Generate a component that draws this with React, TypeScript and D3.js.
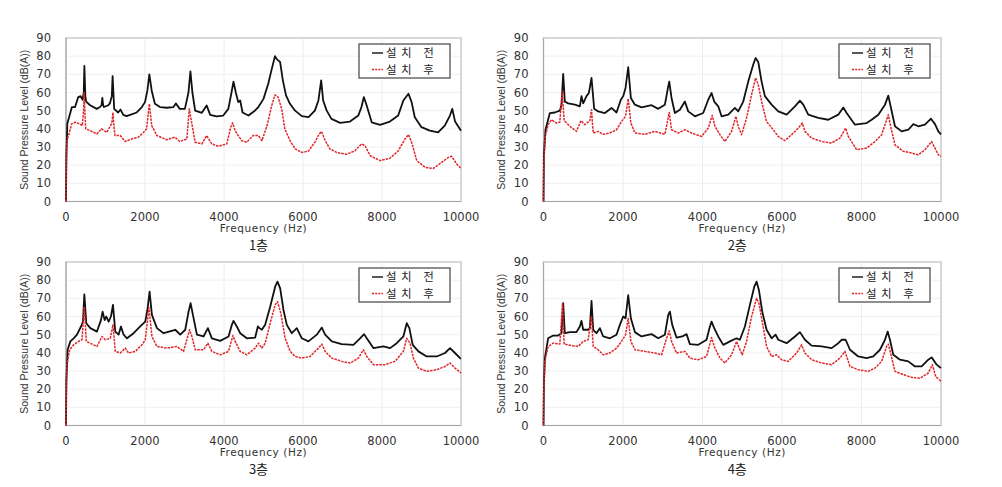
import React from "react";
import * as d3 from "d3";

type Pt = [number, number];

const xTicks = [0, 2000, 4000, 6000, 8000, 10000];
const yTicks = [0, 10, 20, 30, 40, 50, 60, 70, 80, 90];
const seriesNames = ["설치 전", "설치 후"];
const floorNames = ["1층", "2층", "3층", "4층"];

const p1Before: Pt[] = [[0,0],[10,25],[34,43],[150,52],[230,52],[310,57.5],[370,58],[420,56],[450,60],[465,74.6],[490,58],[510,55],[610,53],[780,51],[860,52],[900,53],[920,57],[940,53],[960,52],[1070,53],[1110,54],[1160,58],[1180,69],[1200,60],[1220,51],[1320,49],[1380,50.6],[1450,47.7],[1530,47],[1660,48],[1790,49],[1920,52],[2000,54.7],[2060,61],[2110,70],[2170,61],[2250,53.8],[2380,52],[2550,51.6],[2720,52],[2780,54],[2880,51],[3010,51],[3100,60],[3150,71.6],[3200,60],[3270,50],[3440,48.8],[3560,52.9],[3650,47.7],[3810,46.8],[3980,47.3],[4110,51],[4190,60],[4240,66],[4300,60],[4360,54.7],[4410,55.6],[4470,49],[4620,47.3],[4780,50],[4870,52],[5000,56.5],[5120,64.8],[5210,73],[5290,80],[5330,78.5],[5370,77.7],[5420,76.8],[5490,66.7],[5570,58.4],[5670,53.8],[5800,50],[5970,47],[6140,46.4],[6300,50],[6390,55.6],[6460,66.7],[6510,55.6],[6600,50],[6720,45.5],[6940,43.3],[7190,44],[7400,47.3],[7480,52],[7540,57.5],[7610,53],[7740,43.6],[7950,42.2],[8200,44],[8410,47.3],[8540,55.6],[8670,59.3],[8750,54.7],[8830,46.4],[9000,40.9],[9210,39],[9420,38],[9590,41.8],[9720,47.3],[9780,51],[9850,44],[10000,39]];
const p1After: Pt[] = [[0,0],[8,20],[20,33],[59,36],[143,42.7],[230,43.6],[354,42.7],[413,41.8],[445,50],[460,60],[480,48],[500,40],[610,39],[780,37.2],[900,40],[1030,38],[1160,43],[1190,49],[1210,42],[1240,36.3],[1370,36.3],[1500,33],[1660,34.4],[1830,35.4],[1960,38],[2040,40],[2110,53.8],[2170,41.8],[2300,36.3],[2550,34],[2760,35.4],[2880,33],[3060,34.4],[3120,51],[3180,43.6],[3270,32.6],[3440,31.7],[3560,36.3],[3690,31.7],[3860,30.4],[4070,31.7],[4170,40.9],[4220,43.3],[4280,39],[4360,36.3],[4450,33.5],[4570,32.6],[4740,36.3],[4870,36.3],[4960,33.5],[5090,41.8],[5210,52.9],[5290,58.7],[5370,57.5],[5460,51],[5540,40],[5670,33.5],[5800,29],[5970,27],[6140,27.8],[6300,32.6],[6410,37.2],[6470,38.5],[6560,33.5],[6680,29],[6850,27],[7100,26],[7310,27.8],[7480,31.7],[7570,30.8],[7700,25.2],[7950,22.5],[8200,23.8],[8410,27.8],[8580,34.4],[8670,36.8],[8750,32.6],[8880,22.5],[9090,18.8],[9300,18.2],[9510,21.5],[9680,24.3],[9760,24.9],[9890,20.6],[10000,18.2]];

const p2Before: Pt[] = [[0,0],[10,25],[50,39.5],[160,48.7],[285,49],[410,50],[453,53],[495,70.2],[537,55],[620,54],[790,53.3],[915,52.4],[956,58],[998,54],[1082,58],[1140,59.7],[1208,68],[1275,51],[1376,49.6],[1544,48.7],[1711,51.5],[1837,49],[1946,56],[2005,58],[2064,62.5],[2131,73.9],[2198,57],[2299,53.3],[2466,51.8],[2718,53],[2886,51],[3054,53.3],[3138,63.4],[3163,66],[3221,57],[3305,48.7],[3431,50.5],[3557,55],[3641,49.6],[3809,46.9],[4018,48.7],[4144,56],[4228,59.7],[4295,55],[4396,52.4],[4480,46.9],[4648,47.8],[4815,51.5],[4899,49.6],[5025,55],[5151,66],[5277,75.4],[5336,79],[5403,76.8],[5487,66],[5570,58],[5738,53.3],[5906,49.6],[6116,47.8],[6326,52.4],[6451,55.5],[6535,53.3],[6661,47.8],[6913,46],[7164,45],[7416,47.8],[7542,51.8],[7626,48.7],[7836,42.3],[8129,43.2],[8255,45],[8423,47.8],[8591,53.3],[8674,58.3],[8742,51.5],[8842,41.4],[9010,38.6],[9178,39.5],[9304,42.6],[9430,41.4],[9597,42.3],[9748,45.6],[9849,42.6],[9933,38.6],[10000,37]];
const p2After: Pt[] = [[0,0],[8,20],[34,35],[117,42.3],[201,45],[327,43.2],[411,43.7],[470,60.7],[520,44.5],[663,41.4],[830,38.6],[940,44.5],[1040,42.3],[1166,44.5],[1208,50.5],[1250,37.7],[1376,38.6],[1502,37],[1670,37.7],[1837,39.5],[1963,44],[2064,46.9],[2131,56.6],[2198,43.2],[2299,37.7],[2550,37],[2802,38.6],[3054,37],[3163,49],[3221,39.5],[3389,37.7],[3557,39.5],[3725,37.7],[3977,35.8],[4144,40.4],[4245,47.4],[4312,41.4],[4438,36.8],[4564,33],[4732,38.6],[4841,46.9],[4899,41.4],[4983,36.8],[5109,46],[5235,58.8],[5336,68],[5403,64.3],[5487,55],[5612,44],[5780,39.5],[5906,35.8],[6074,33.5],[6242,36.8],[6410,40.4],[6510,43.2],[6577,38.6],[6745,34.9],[6997,33],[7248,32.2],[7458,34.9],[7601,40.4],[7668,35.8],[7878,28.5],[8129,29.4],[8339,33],[8507,36.8],[8632,45],[8674,47.8],[8742,40.4],[8842,31.2],[9052,27.6],[9262,26.7],[9430,25.7],[9597,28.5],[9765,33],[9849,29.4],[9933,25.7],[10000,24.8]];

const p3Before: Pt[] = [[0,0],[10,25],[42,41.7],[110,46.3],[194,48],[278,50],[380,54.5],[430,57.2],[464,72.2],[514,56.3],[616,53.6],[784,51.7],[885,58],[927,62.7],[978,58],[1020,60],[1079,57.2],[1138,60],[1189,66.4],[1248,51.7],[1332,50],[1391,54.5],[1459,50],[1543,48],[1712,50.8],[1880,54.5],[2007,57.2],[2066,64.5],[2116,73.7],[2175,60.9],[2302,53.6],[2470,50.8],[2766,52.7],[2892,50],[3019,52.7],[3103,62.7],[3154,67.3],[3213,60.9],[3314,50],[3482,49],[3592,53.6],[3693,48],[3904,46.6],[4115,49],[4199,55.4],[4241,57.6],[4325,54.5],[4410,50.8],[4578,48],[4789,48.4],[4857,54.5],[4899,53.6],[4958,52.7],[5042,55.4],[5169,65.4],[5295,76.4],[5354,79.2],[5422,75.5],[5506,63.6],[5590,55.4],[5717,50.8],[5843,53.6],[5970,48],[6138,46.3],[6349,50],[6476,53.9],[6560,50],[6729,46.3],[6981,44.8],[7277,44.4],[7445,48],[7546,50.3],[7614,48],[7782,42.6],[8035,43.5],[8204,42.6],[8373,45.3],[8541,49],[8626,56.3],[8693,53.6],[8777,44.4],[8921,40.8],[9132,38],[9385,38],[9595,39.9],[9722,42.6],[9848,39.9],[9975,37.1],[10000,36.7]];
const p3After: Pt[] = [[0,0],[8,20],[25,33.5],[93,41.7],[194,44.4],[320,46.3],[405,47.2],[464,65.4],[514,46.3],[658,44.8],[784,43.5],[911,49],[995,47.2],[1121,48],[1189,55.4],[1248,40.8],[1374,39.9],[1501,42.6],[1585,39.9],[1754,40.8],[1922,44.4],[2007,47.2],[2100,64.9],[2175,49],[2302,43.5],[2555,42.6],[2808,43.5],[2976,40.8],[3128,52.7],[3187,49],[3272,41.7],[3482,41.7],[3592,45.3],[3693,40.8],[3904,38.9],[4115,40.8],[4224,49.5],[4283,46.3],[4410,40.8],[4578,38.9],[4789,42.6],[4873,45.3],[4958,42.6],[5042,45.3],[5169,56.3],[5295,66.4],[5354,68.2],[5439,61.8],[5548,48],[5675,40.8],[5801,38],[5970,37.1],[6180,38],[6391,42.6],[6476,44.8],[6560,40.8],[6729,37.1],[6981,35.3],[7192,34.4],[7403,37.1],[7530,41.7],[7614,38],[7782,33.5],[8077,33.5],[8330,35.3],[8541,40.8],[8626,48],[8710,45.3],[8794,37.1],[8921,31.6],[9132,29.8],[9385,30.7],[9595,32.5],[9722,34.4],[9848,31.6],[10000,28.9]];

const p4Before: Pt[] = [[0,0],[10,22],[34,37],[117,48],[243,49.5],[369,49.5],[453,50.8],[495,67.3],[537,50.8],[663,51.4],[830,51.4],[914,54.5],[956,57.6],[998,52.7],[1124,52.7],[1166,53.6],[1208,68.6],[1250,52.7],[1334,50.8],[1418,53.6],[1502,49],[1670,48],[1837,50],[1921,55.4],[2005,60],[2064,59],[2131,71.8],[2198,59],[2299,51.4],[2466,49],[2718,50.3],[2886,48],[3054,50],[3138,60.9],[3180,62.7],[3238,55.4],[3347,48.4],[3490,49],[3599,50.3],[3683,44.8],[3893,44.4],[4102,47.2],[4186,54.5],[4228,57.2],[4295,53.6],[4396,49],[4522,44.4],[4690,46.3],[4857,48],[4941,47.2],[5067,54.5],[5193,66.4],[5302,76.4],[5361,79.2],[5419,74.6],[5503,62.7],[5612,52.7],[5738,48],[5839,50],[5906,47.2],[6116,45.3],[6326,49],[6451,51.4],[6577,47.2],[6745,44],[6997,43.5],[7248,42.6],[7416,45.3],[7500,47.2],[7601,47.2],[7710,41.7],[7919,38],[8129,37.1],[8297,38],[8465,41.7],[8591,47.2],[8658,51.7],[8716,47.2],[8800,38.9],[8968,36.2],[9178,35.3],[9346,32.5],[9513,32.5],[9681,36.2],[9765,37.5],[9891,33.5],[10000,31.6]];
const p4After: Pt[] = [[0,0],[8,20],[34,35.3],[117,43.5],[243,45.3],[411,44.8],[478,67.3],[520,44.8],[705,44],[872,43.5],[998,46.3],[1124,47.2],[1208,60],[1250,43.5],[1376,41.7],[1502,38.9],[1670,39.9],[1837,42.6],[1963,46.3],[2064,49.9],[2131,59],[2198,46.3],[2299,41.7],[2550,40.8],[2802,39.9],[2970,38.9],[3096,48],[3163,52.1],[3221,46.3],[3347,39.9],[3557,40.8],[3683,37.1],[3893,36.2],[4102,38],[4228,48.4],[4295,43.5],[4438,37.1],[4564,34.4],[4732,38.9],[4857,46.3],[4924,42.6],[5000,38.9],[5109,46.3],[5235,60],[5361,70],[5419,67.3],[5503,57.2],[5612,43.5],[5738,38],[5864,38.9],[5990,36.2],[6158,35.3],[6368,39.9],[6493,44.4],[6577,39.9],[6745,36.2],[6997,34.4],[7248,33.5],[7458,37.1],[7584,40.8],[7710,32.5],[7919,30.7],[8171,29.8],[8339,31.6],[8507,35.3],[8632,43.5],[8674,44.8],[8742,38.9],[8842,29.8],[9052,28],[9262,26.5],[9472,26],[9681,28.9],[9782,33.5],[9866,27],[10000,24.3]];

const beforeSeries = [p1Before, p2Before, p3Before, p4Before];
const afterSeries = [p1After, p2After, p3After, p4After];

const W = 1002;
const H = 487;
const panelBoxes = [
  { l: 66, t: 38, r: 461, b: 201.5 },
  { l: 543.5, t: 38, r: 941, b: 201.5 },
  { l: 66, t: 262, r: 461, b: 425.5 },
  { l: 543.5, t: 262, r: 941, b: 425.5 },
];

const tickFont = "'DejaVu Sans', Verdana, sans-serif";
const korFont = "'Noto Sans CJK KR', 'Noto Sans', sans-serif";

function Panel({ idx }: { idx: number }) {
  const box = panelBoxes[idx];
  const x = d3.scaleLinear().domain([0, 10000]).range([box.l, box.r]);
  const y = d3.scaleLinear().domain([0, 90]).range([box.b, box.t]);
  const line = d3
    .line<Pt>()
    .x((d) => x(d[0]))
    .y((d) => y(d[1]));
  const cx = (box.l + box.r) / 2;
  const cy = (box.t + box.b) / 2;
  const legX = box.r - 102;
  const legY = box.t + 6;
  return (
    <g>
      {xTicks.slice(1).map((t) => (
        <line key={"gx" + t} x1={x(t)} x2={x(t)} y1={box.t} y2={box.b} stroke="#ececec" strokeWidth={1} />
      ))}
      {yTicks.slice(1).map((t) => (
        <line key={"gy" + t} x1={box.l} x2={box.r} y1={y(t)} y2={y(t)} stroke="#f0f0f0" strokeWidth={1} />
      ))}
      <rect x={box.l} y={box.t} width={box.r - box.l} height={box.b - box.t} fill="none" stroke="#c4c4c4" strokeWidth={1.2} />
      <line x1={box.l} x2={box.l} y1={box.t} y2={box.b} stroke="#a8a8a8" strokeWidth={1.2} />
      <line x1={box.l} x2={box.r} y1={box.b} y2={box.b} stroke="#a8a8a8" strokeWidth={1.2} />
      <path d={line(beforeSeries[idx]) || ""} fill="none" stroke="#111" strokeWidth={1.8} strokeLinejoin="round" />
      <path d={line(afterSeries[idx]) || ""} fill="none" stroke="#e0262a" strokeWidth={1.5} strokeDasharray="2.5,1" strokeLinejoin="round" />
      {yTicks.map((t) => (
        <text key={"yt" + t} x={box.l - 15} y={y(t)} dy="0.35em" textAnchor="end" fontFamily={tickFont} fontSize={11.5} fill="#333">
          {t}
        </text>
      ))}
      {xTicks.map((t) => (
        <text key={"xt" + t} x={x(t)} y={box.b + 15} dy="0.35em" textAnchor="middle" fontFamily={tickFont} fontSize={11.5} fill="#333">
          {t}
        </text>
      ))}
      <text
        transform={`translate(${box.l - 42},${cy}) rotate(-90)`}
        textAnchor="middle"
        dy="0.35em"
        fontFamily="'Liberation Sans', Arial, sans-serif"
        fontSize={10.5}
        fill="#333"
      >
        Sound Pressure Level (dB(A))
      </text>
      <text x={cx} y={box.b + 27} dy="0.35em" textAnchor="middle" fontFamily={tickFont} fontSize={10.5} letterSpacing={0.6} fill="#333">
        Frequency (Hz)
      </text>
      <text x={cx - 5} y={box.b + 44} dy="0.35em" textAnchor="middle" fontFamily={korFont} fontSize={13} fill="#222">
        {floorNames[idx]}
      </text>
      <rect x={legX} y={legY} width={91} height={34} fill="#fff" stroke="#444" strokeWidth={1.2} />
      <line x1={legX + 13} x2={legX + 24} y1={legY + 9} y2={legY + 9} stroke="#111" strokeWidth={1.4} />
      <line x1={legX + 13} x2={legX + 24} y1={legY + 25.5} y2={legY + 25.5} stroke="#e0262a" strokeWidth={1.4} strokeDasharray="2,1.2" />
      <text x={legX + 27} y={legY + 9} dy="0.35em" fontFamily={korFont} fontSize={11.5} letterSpacing={4.5} fill="#222">
        {seriesNames[0]}
      </text>
      <text x={legX + 27} y={legY + 25.5} dy="0.35em" fontFamily={korFont} fontSize={11.5} letterSpacing={4.5} fill="#222">
        {seriesNames[1]}
      </text>
    </g>
  );
}

export default function App() {
  return (
    <svg
      width={W}
      height={H}
      viewBox={`0 0 ${W} ${H}`}
      style={{ position: "absolute", left: 0, top: 0, background: "#fff", display: "block" }}
    >
      <rect x={0} y={0} width={W} height={H} fill="#fff" />
      {[0, 1, 2, 3].map((i) => (
        <Panel key={i} idx={i} />
      ))}
    </svg>
  );
}
